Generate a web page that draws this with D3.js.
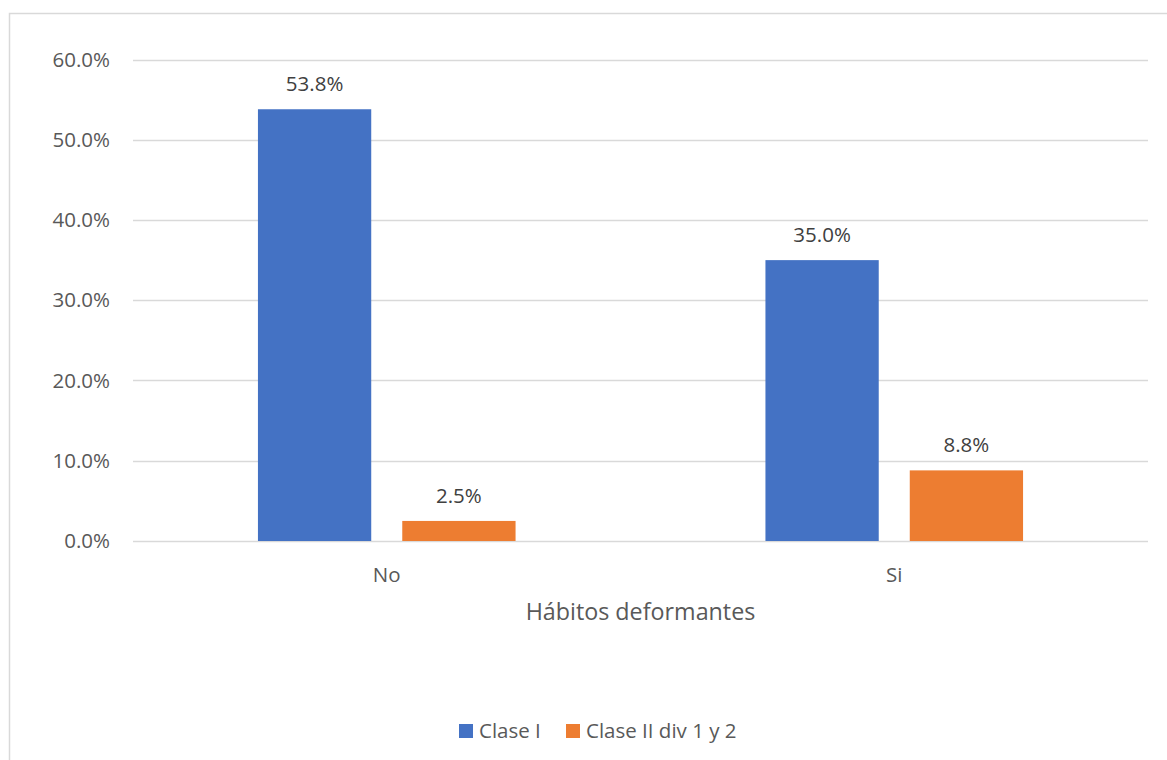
<!DOCTYPE html>
<html>
<head>
<meta charset="utf-8">
<script src="https://cdn.jsdelivr.net/npm/d3@7"></script>
<style>
  html, body { margin: 0; padding: 0; background: #fff; }
  svg { display: block; font-family: "Open Sans", "Noto Sans", sans-serif; }
</style>
</head>
<body>
<svg id="chart" width="1167" height="760"></svg>
<script>
// Categories, series and tick labels
const categories = ["No", "Si"];
const seriesNames = ["Clase I", "Clase II div 1 y 2"];
const claseI = [0.538, 0.350];
const claseII = [0.025, 0.088];
const yTicks = [0, 0.1, 0.2, 0.3, 0.4, 0.5, 0.6];
const xTitle = "Hábitos deformantes";
const colors = ["#4472C4", "#ED7D31"];

const svg = d3.select("#chart");
const W = 1167, H = 760;
const labelSize = "20.5px";

// chart frame
svg.append("rect")
  .attr("x", 9.5).attr("y", 13.5)
  .attr("width", W + 10).attr("height", H + 10)
  .attr("fill", "#fff").attr("stroke", "#D9D9D9").attr("stroke-width", 1.5);

const plot = { left: 133, right: 1148, top: 59.5, bottom: 541 };

const y = d3.scaleLinear().domain([0, 0.6]).range([plot.bottom, plot.top]);
const x = d3.scaleBand().domain(categories).range([plot.left, plot.right]).padding(0);

// group width inside each category, then the two bars with a gap between them
const groupW = x.bandwidth() * 0.5076;
const xs = d3.scaleBand().domain(seriesNames)
  .range([-groupW / 2, groupW / 2]).paddingInner(0.215).paddingOuter(0);

const fmt = d3.format(".1%");

// gridlines
svg.append("g").selectAll("line").data(yTicks).join("line")
  .attr("x1", plot.left).attr("x2", plot.right)
  .attr("y1", d => Math.round(y(d)) + 0.5).attr("y2", d => Math.round(y(d)) + 0.5)
  .attr("stroke", "#D9D9D9").attr("stroke-width", 1.5);

// y axis labels
const yAxis = d3.axisLeft(y).tickValues(yTicks).tickFormat(fmt).tickSize(0).tickPadding(23);
const yg = svg.append("g").attr("transform", `translate(${plot.left},0)`).call(yAxis);
yg.select(".domain").remove();
yg.selectAll("text").attr("fill", "#595959").style("font-size", labelSize)
  .style("font-family", "'Open Sans', sans-serif");

// bars
const rows = categories.map((c, i) => ({ cat: c, vals: [claseI[i], claseII[i]] }));
const groups = svg.append("g").selectAll("g").data(rows).join("g")
  .attr("transform", d => `translate(${x(d.cat) + x.bandwidth() / 2},0)`);

groups.selectAll("rect").data(d => d.vals.map((v, j) => ({ v, s: seriesNames[j], j })))
  .join("rect")
  .attr("x", d => xs(d.s))
  .attr("width", xs.bandwidth())
  .attr("y", d => y(d.v))
  .attr("height", d => y(0) - y(d.v))
  .attr("fill", d => colors[d.j]);

// data labels
groups.selectAll("text").data(d => d.vals.map((v, j) => ({ v, s: seriesNames[j], j })))
  .join("text")
  .attr("x", d => xs(d.s) + xs.bandwidth() / 2)
  .attr("y", d => y(d.v) - 18)
  .attr("text-anchor", "middle")
  .attr("fill", "#404040")
  .style("font-size", labelSize)
  .text(d => fmt(d.v));

// x axis labels
const xAxis = d3.axisBottom(x).tickSize(0).tickPadding(26);
const xg = svg.append("g").attr("transform", `translate(0,${plot.bottom})`).call(xAxis);
xg.select(".domain").remove();
xg.selectAll("text").attr("fill", "#595959").style("font-size", labelSize)
  .style("font-family", "'Open Sans', sans-serif");

// axis title
svg.append("text")
  .attr("x", (plot.left + plot.right) / 2).attr("y", 620)
  .attr("text-anchor", "middle").attr("fill", "#595959")
  .style("font-size", "23.3px")
  .text(xTitle);

// legend
const legend = svg.append("g").attr("transform", "translate(459,724)");
const legX = [0, 107];
seriesNames.forEach((name, i) => {
  const g = legend.append("g").attr("transform", `translate(${legX[i]},0)`);
  g.append("rect").attr("width", 14).attr("height", 14).attr("fill", colors[i]);
  g.append("text").attr("x", 20).attr("y", 14)
    .attr("fill", "#595959").style("font-size", labelSize).text(name);
});
</script>
</body>
</html>
